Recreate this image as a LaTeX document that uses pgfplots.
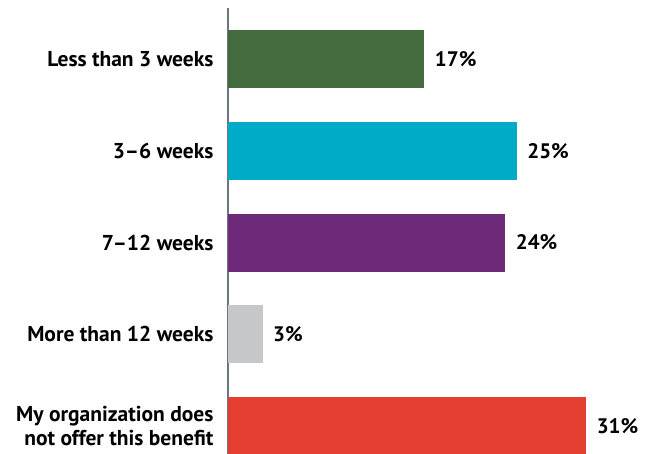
\documentclass[border=0pt]{standalone}
\usepackage{fontspec}
\setmainfont{PT Sans}
\usepackage{pgfplots}
\pgfplotsset{compat=1.18}
\definecolor{cgreen}{HTML}{436B3D}
\definecolor{ccyan}{HTML}{00ABC8}
\definecolor{cpurple}{HTML}{6C2A78}
\definecolor{cgray}{HTML}{C5C7C9}
\definecolor{cred}{HTML}{E33E30}
\definecolor{caxis}{HTML}{6D7680}
\begin{document}
\begin{tikzpicture}
\begin{axis}[
  at={(228pt,-8pt)}, anchor=north west,
  scale only axis, width=416pt, height=446pt,
  xbar, bar width=58pt,
  xmin=0, xmax=36, ymin=-0.556, ymax=4.305,
  y dir=reverse,
  axis x line=none,
  axis y line*=left,
  y axis line style={draw=caxis, line width=1.5pt, -},
  ytick={0,1,2,3,4}, major tick length=0pt,
  /pgf/number format/assume math mode=true,
  yticklabels={Less than 3 weeks, 3--6 weeks, 7--12 weeks, More than 12 weeks, {My organization does\\not offer this benefit}},
  yticklabel style={font=\fontsize{21.5}{24}\selectfont\bfseries, align=right, text=black, xshift=-11pt},
  nodes near coords={\pgfmathprintnumber{\pgfplotspointmeta}\%},
  nodes near coords style={font=\fontsize{21}{24}\selectfont\bfseries, text=black, anchor=west, xshift=7pt},
  every axis plot/.append style={draw=none, bar shift=0pt},
]
\addplot[fill=cgreen] coordinates {(17,0)};
\addplot[fill=ccyan] coordinates {(25,1)};
\addplot[fill=cpurple] coordinates {(24,2)};
\addplot[fill=cgray] coordinates {(3,3)};
\addplot[fill=cred] coordinates {(31,4)};
\end{axis}
\pgfresetboundingbox
\path[use as bounding box] (0,0) rectangle (645pt,-454pt);
\end{tikzpicture}
\end{document}
